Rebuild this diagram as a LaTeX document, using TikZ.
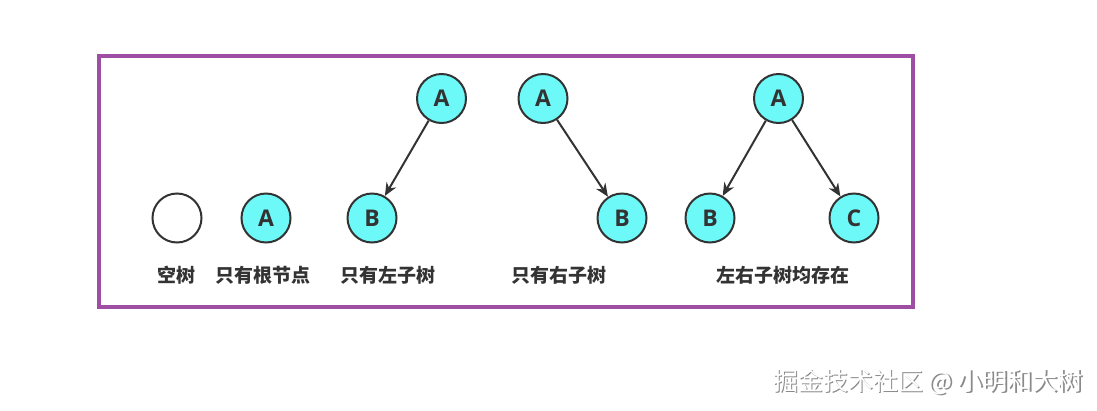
\documentclass[tikz,border=0pt]{standalone}
\usepackage{fontspec}
\setmainfont{Open Sans}
\newfontfamily\cjk{Noto Sans CJK SC}
\usetikzlibrary{arrows.meta}
\definecolor{framepurple}{HTML}{9F4FA3}
\definecolor{nodecyan}{HTML}{6EF9F9}
\definecolor{ink}{HTML}{333333}
\definecolor{wmshadow}{HTML}{8A8A8A}
\begin{document}
\begin{tikzpicture}[x=1pt,y=-1pt,
  tnode/.style={circle, draw=ink, line width=2pt, fill=nodecyan, minimum size=49pt, inner sep=0pt,
    font=\fontsize{23}{23}\selectfont\bfseries, text=ink},
  enode/.style={tnode, fill=white},
  lbl/.style={font=\cjk\bfseries\fontsize{19}{19}\selectfont, text=ink, inner sep=0pt},
  edge/.style={-{Stealth[length=13pt,width=11pt]}, line width=2pt, draw=ink},
  wm/.style={font=\cjk\fontsize{25}{25}\selectfont, inner sep=0pt}]
\useasboundingbox[fill=white] (0,0) rectangle (1097,410);
\draw[framepurple, line width=3.2pt] (99,56) rectangle (913,307);

% empty tree
\node[enode] (e) at (177,218) {};
\node[lbl] (le) at (176,275) {空树};
% root only
\node[tnode] (r) at (266,218) {A};
\node[lbl] (lr) at (262.5,275) {只有根节点};
% left subtree
\node[tnode] (la) at (441.5,98.5) {A};
\node[tnode] (lb) at (372,218) {B};
\draw[edge] (la) -- (lb);
\node[lbl] (ll) at (387.5,275) {只有左子树};
% right subtree
\node[tnode] (ra) at (543,98.5) {A};
\node[tnode] (rb) at (622,218) {B};
\draw[edge] (ra) -- (rb);
\node[lbl] (lrt) at (559,275) {只有右子树};
% both
\node[tnode] (ba) at (778.5,98.5) {A};
\node[tnode] (bb) at (710,218) {B};
\node[tnode] (bc) at (854,218) {C};
\draw[edge] (ba) -- (bb);
\draw[edge] (ba) -- (bc);
\node[lbl] (lbth) at (782.5,275) {左右子树均存在};

% watermark
\node[wm, text=wmshadow] (wms) at (929.5,383.5) {掘金技术社区 @ 小明和大树};
\node[wm, text=white] (wmt) at (928,382) {掘金技术社区 @ 小明和大树};
\end{tikzpicture}
\end{document}
